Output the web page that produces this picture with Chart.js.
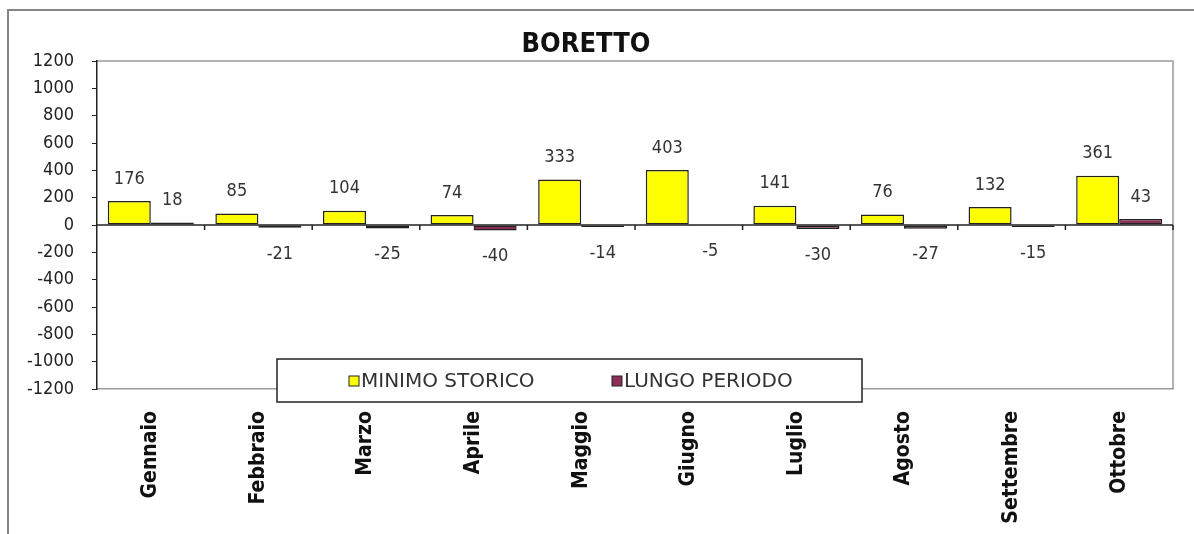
<!DOCTYPE html>
<html>
<head>
<meta charset="utf-8">
<script src="https://cdn.jsdelivr.net/npm/chart.js@4"></script>
<style>
  html, body { margin: 0; padding: 0; background: #fff; }
  #wrap { position: relative; width: 1194px; height: 534px; }
</style>
</head>
<body>
<div id="wrap"><canvas id="chart" width="1194" height="534"></canvas></div>
<script>
const categories = ['Gennaio', 'Febbraio', 'Marzo', 'Aprile', 'Maggio', 'Giugno', 'Luglio', 'Agosto', 'Settembre', 'Ottobre'];
const minimoStorico = [176, 85, 104, 74, 333, 403, 141, 76, 132, 361];
const lungoPeriodo = [18, -21, -25, -40, -14, -5, -30, -27, -15, 43];
const seriesNames = ['MINIMO STORICO', 'LUNGO PERIODO'];
const yMin = -1200, yMax = 1200, yStep = 200;
const chartTitle = 'BORETTO';

const FONT = "'DejaVu Sans Condensed', 'DejaVu Sans', sans-serif";
const YELLOW = '#ffff00';
const MAROON = '#8e2f58';

// frame, title, plot border, zero line, value labels and legend box
const decor = {
  id: 'decor',
  beforeDraw(chart) {
    const ctx = chart.ctx;
    ctx.save();
    ctx.strokeStyle = '#858585';
    ctx.lineWidth = 2;
    ctx.beginPath();
    ctx.moveTo(8, 540);
    ctx.lineTo(8, 10);
    ctx.lineTo(1200, 10);
    ctx.stroke();

    ctx.fillStyle = '#111';
    ctx.font = 'bold 27px ' + FONT;
    ctx.textAlign = 'center';
    ctx.textBaseline = 'middle';
    ctx.fillText(chartTitle, 586, 45);

    const a = chart.chartArea;
    ctx.strokeStyle = '#9a9a9a';
    ctx.lineWidth = 1.5;
    ctx.beginPath();
    ctx.moveTo(a.left, a.top);
    ctx.lineTo(a.right, a.top);
    ctx.lineTo(a.right, a.bottom);
    ctx.stroke();
    ctx.restore();
  },
  afterDatasetsDraw(chart) {
    const ctx = chart.ctx;
    const a = chart.chartArea;
    const y0 = chart.scales.y.getPixelForValue(0);
    ctx.save();
    ctx.strokeStyle = '#222';
    ctx.lineWidth = 1.5;
    ctx.beginPath();
    ctx.moveTo(a.left, y0);
    ctx.lineTo(a.right, y0);
    const step = (a.right - a.left) / categories.length;
    for (let i = 1; i <= categories.length; i++) {
      ctx.moveTo(a.left + i * step, y0);
      ctx.lineTo(a.left + i * step, y0 + 5);
    }
    ctx.stroke();

    ctx.fillStyle = '#333';
    ctx.font = '18px ' + FONT;
    ctx.textAlign = 'center';
    ctx.textBaseline = 'middle';
    chart.data.datasets.forEach((ds, di) => {
      chart.getDatasetMeta(di).data.forEach((el, i) => {
        const v = ds.data[i];
        const ty = v >= 0 ? el.y - 22 : el.y + 26;
        ctx.fillText(String(v), el.x, ty);
      });
    });
    ctx.restore();
  },
  afterDraw(chart) {
    const ctx = chart.ctx;
    ctx.save();
    ctx.fillStyle = '#fff';
    ctx.fillRect(277, 359, 585, 43);
    ctx.strokeStyle = '#222';
    ctx.lineWidth = 1.5;
    ctx.strokeRect(277, 359, 585, 43);
    const items = [[349, YELLOW], [612, MAROON]];
    ctx.font = "20px 'DejaVu Sans', sans-serif";
    ctx.textBaseline = 'middle';
    ctx.textAlign = 'left';
    items.forEach(([lx, col], i) => {
      ctx.fillStyle = col;
      ctx.fillRect(lx, 376, 10, 10);
      ctx.strokeStyle = '#222';
      ctx.lineWidth = 1;
      ctx.strokeRect(lx, 376, 10, 10);
      ctx.fillStyle = '#333';
      ctx.fillText(seriesNames[i], lx + 12, 382);
    });
    ctx.restore();
  }
};

new Chart(document.getElementById('chart'), {
  type: 'bar',
  data: {
    labels: categories,
    datasets: [
      { label: seriesNames[0], data: minimoStorico, backgroundColor: YELLOW, borderColor: '#222', borderWidth: 1.5, borderSkipped: false },
      { label: seriesNames[1], data: lungoPeriodo, backgroundColor: MAROON, borderColor: '#222', borderWidth: 1.5, borderSkipped: false }
    ]
  },
  options: {
    responsive: false,
    animation: false,
    layout: { padding: { top: 61, right: 21, bottom: 0, left: 0 } },
    datasets: { bar: { categoryPercentage: 0.8, barPercentage: 1.0 } },
    plugins: { legend: { display: false }, title: { display: false }, tooltip: { enabled: false } },
    scales: {
      x: {
        grid: { display: false, drawTicks: false, tickLength: 0 },
        border: { display: true, color: '#9a9a9a', width: 1.5 },
        ticks: { color: '#111', font: { family: FONT, size: 21, weight: 'bold' }, minRotation: 90, maxRotation: 90, padding: 22, autoSkip: false },
        afterFit(s) { s.height = 145; }
      },
      y: {
        min: yMin, max: yMax,
        grid: { drawOnChartArea: false, drawTicks: true, tickLength: 5, color: '#222' },
        border: { display: true, color: '#222', width: 1.5 },
        ticks: { stepSize: yStep, color: '#222', font: { family: FONT, size: 18 }, padding: 18, callback: v => String(v) },
        afterFit(s) { s.width = 97; }
      }
    }
  },
  plugins: [decor]
});
</script>
</body>
</html>
